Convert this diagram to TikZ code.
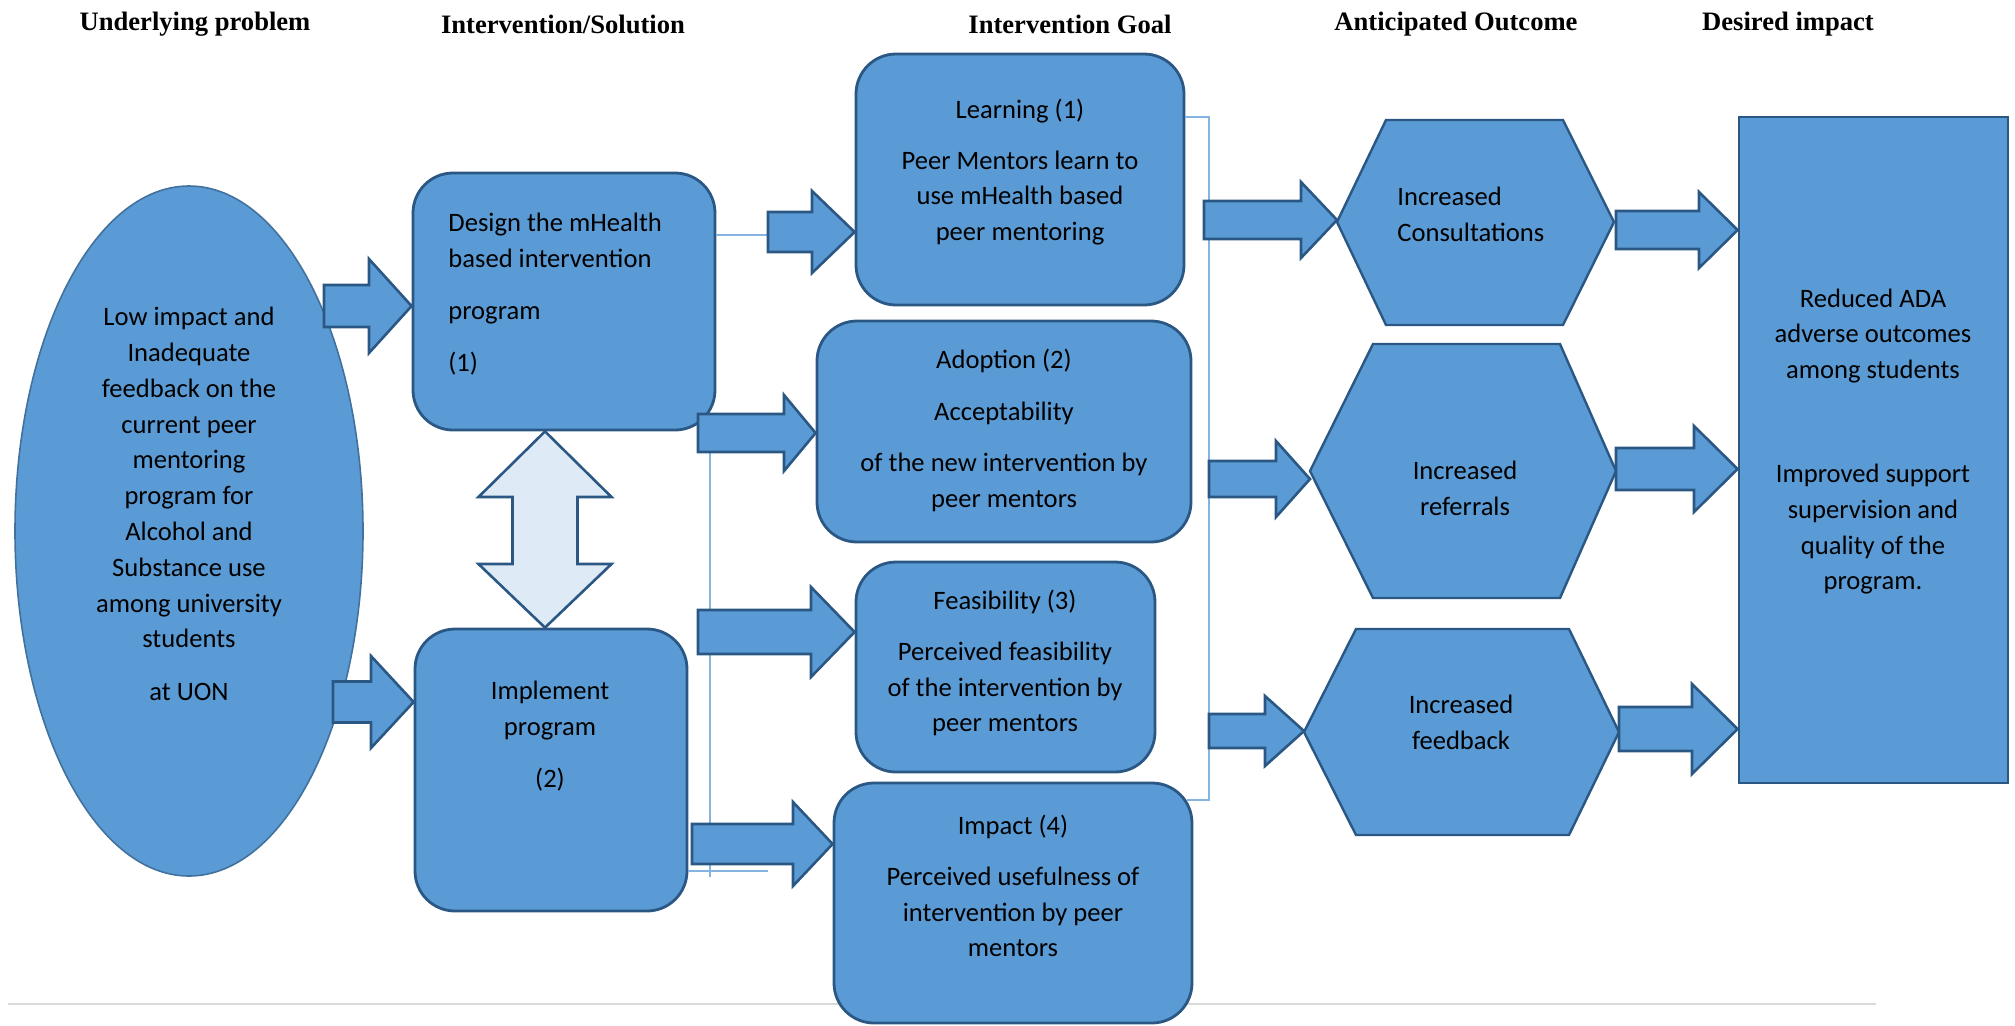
\documentclass[tikz,border=0pt]{standalone}
\usepackage{fontspec}
\setmainfont{Carlito}
\newfontfamily\headfont{Liberation Serif}
\usetikzlibrary{shapes.geometric}

\definecolor{boxblue}{HTML}{5B9BD5}
\definecolor{boxedge}{HTML}{2A5783}
\definecolor{ellipseedge}{HTML}{41719C}
\definecolor{linkblue}{HTML}{86B4E2}
\definecolor{paleblue}{HTML}{DEEBF7}
\definecolor{rulegrey}{HTML}{D9D9D9}

\tikzset{
  header/.style={font=\headfont\bfseries\fontsize{13.3}{16}\selectfont, inner sep=0pt},
  problemshape/.style={ellipse, draw=ellipseedge, fill=boxblue, line width=0.8pt, inner sep=0pt},
  goalbox/.style={draw=boxedge, fill=boxblue, line width=1.4pt, rounded corners=20pt, inner sep=0pt},
  impactbox/.style={draw=boxedge, fill=boxblue, line width=1.4pt, inner sep=0pt},
  hexbox/.style={draw=boxedge, fill=boxblue, line width=1.2pt, line join=miter},
  bigarrow/.style={draw=boxedge, fill=boxblue, line width=1.3pt, line join=miter},
  boxtext/.style={align=center, inner sep=0pt, font=\fontsize{13.3}{17.9}\selectfont},
  link/.style={draw=linkblue, line width=0.6pt},
}

% block arrow: tail x, head base x, mid y, shaft half, head half, target
\newcommand{\fatarrow}[6]{%
  \draw[bigarrow] (#1,#3-#4) -- (#2,#3-#4) -- (#2,#3-#5) -- (#6 |- 0,#3)
    -- (#2,#3+#5) -- (#2,#3+#4) -- (#1,#3+#4) -- cycle;}

\begin{document}
\begin{tikzpicture}[x=0.5pt, y=-0.5pt]

  \useasboundingbox (0,0) rectangle (2015,1025);

  % Column headings
  \node[header] (hproblem) at (195,24) {Underlying problem};
  \node[header] (hsolution) at (563,24) {Intervention/Solution};
  \node[header] (hgoal) at (1070,24) {Intervention Goal};
  \node[header] (houtcome) at (1456,24) {Anticipated Outcome};
  \node[header] (himpact) at (1788,24) {Desired impact};

  % Bottom rule
  \draw[rulegrey, line width=1.2pt] (8,1004) -- (1876,1004);

  % Shapes
  \node[problemshape, minimum width=174pt, minimum height=345pt] (problem) at (189,531) {};
  \node[goalbox, minimum width=151pt, minimum height=128.5pt] (design) at (564,301.5) {};
  \node[goalbox, minimum width=136pt, minimum height=141pt] (implement) at (551,770) {};
  \node[goalbox, minimum width=164pt, minimum height=125.5pt] (learn) at (1020,179.5) {};
  \node[goalbox, minimum width=187pt, minimum height=110.5pt] (adopt) at (1004,431.5) {};
  \node[goalbox, minimum width=149.5pt, minimum height=105pt] (feas) at (1005.5,667) {};
  \node[goalbox, minimum width=179pt, minimum height=120pt] (impact) at (1013,903) {};
  \node[impactbox, minimum width=134.5pt, minimum height=333pt] (desired) at (1873.5,450) {};

  % Outcome hexagons
  \draw[hexbox] (1337,222) coordinate (consult) -- (1386,120) -- (1563,120)
    -- (1614,222) -- (1563,325) -- (1386,325) -- cycle;
  \draw[hexbox] (1310,471) coordinate (referral) -- (1373,344) -- (1560,344)
    -- (1616,471) -- (1560,598) -- (1373,598) -- cycle;
  \draw[hexbox] (1304,732) coordinate (feedback) -- (1356,629) -- (1569,629)
    -- (1619,732) -- (1569,835) -- (1356,835) -- cycle;

  % Thin links
  \draw[link] (design.east |- 0,235) -- (768,235);
  \draw[link] (710,433) -- (710,877);
  \draw[link] (implement.east |- 0,871) -- (768,871);
  \draw[link] (learn.east |- 0,117) -- (1209,117) -- (1209,800) -- (1187,800);

  % Block arrows
  \fatarrow{324}{369}{306}{21}{47}{design.west}
  \fatarrow{333}{371}{702}{20.5}{46}{implement.west}
  \fatarrow{768}{812}{232}{20}{41}{learn.west}
  \fatarrow{698}{784}{433}{19}{38}{adopt.west}
  \fatarrow{698}{811}{632}{22}{45}{feas.west}
  \fatarrow{692}{793}{844}{20}{42}{impact.west}
  \fatarrow{1204}{1301}{220}{19}{38}{consult}
  \fatarrow{1209}{1276}{479}{18}{38}{referral}
  \fatarrow{1209}{1265}{731}{17}{35}{feedback}
  \fatarrow{1616}{1699}{230}{19}{38}{desired.west}
  \fatarrow{1616}{1694}{469}{21}{43}{desired.west}
  \fatarrow{1619}{1692}{729}{22}{45}{desired.west}

  % Two-way arrow between design and implementation
  \draw[bigarrow, fill=paleblue] (design.south -| 545,0) -- (611.5,497) -- (577.5,497)
    -- (577.5,564) -- (611.5,564) -- (implement.north -| 545,0) -- (478.5,564)
    -- (512.5,564) -- (512.5,497) -- (478.5,497) -- cycle;

  % Texts
  \node[boxtext] (problemtext) at (189,504) {Low impact and\\Inadequate\\feedback on the\\current peer\\mentoring\\program for\\Alcohol and\\Substance use\\among university\\students\\[8.5pt]at UON};
  \node[boxtext, align=left, anchor=west] (designtext) at (448,294) {Design the mHealth\\based intervention\\[8pt]program\\[8pt](1)};
  \node[boxtext] (implementtext) at (550,736) {Implement\\program\\[8pt](2)};
  \node[boxtext] (learntext) at (1020,172) {Learning (1)\\[7.5pt]Peer Mentors learn to\\use mHealth based\\peer mentoring};
  \node[boxtext] (adopttext) at (1004,430.5) {Adoption (2)\\[8pt]Acceptability\\[8pt]of the new intervention by\\peer mentors};
  \node[boxtext] (feastext) at (1005,663) {Feasibility (3)\\[7.5pt]Perceived feasibility\\of the intervention by\\peer mentors};
  \node[boxtext] (impacttext) at (1013,886) {Impact (4)\\[7.5pt]Perceived usefulness of\\intervention by peer\\mentors};
  \node[boxtext, align=left, anchor=west] (consulttext) at (1397,214.5) {Increased\\Consultations};
  \node[boxtext] (referraltext) at (1465,488) {Increased\\referrals};
  \node[boxtext] (feedbacktext) at (1461,722) {Increased\\feedback};
  \node[boxtext] (desiredtext) at (1873,441.5) {Reduced ADA\\adverse outcomes\\among students\\[34pt]Improved support\\supervision and\\quality of the\\program.};

\end{tikzpicture}
\end{document}
